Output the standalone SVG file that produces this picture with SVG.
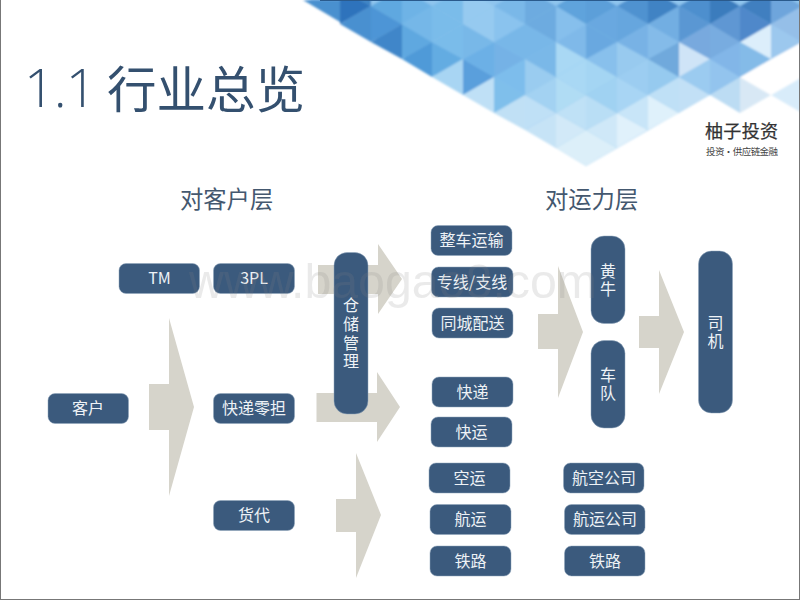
<svg xmlns="http://www.w3.org/2000/svg" width="800" height="600" viewBox="0 0 800 600">
<style>
text{font-family:"Noto Sans CJK SC","Noto Sans",sans-serif}
.n rect{fill:#3b5a7d;stroke:#8ea4ba;stroke-width:.5}
.n text{fill:#eef2f6;font-size:16px;text-anchor:middle}
.a polygon{fill:#d6d4cb}
.h{fill:#44586f;font-size:23.3px}
</style>
<defs><filter id="soft" x="-2%" y="-5%" width="104%" height="110%"><feGaussianBlur stdDeviation="0.8"/></filter></defs>
<rect width="800" height="600" fill="#fff"/>
<g id="banner" filter="url(#soft)">
<polygon points="303,-5 802,-5 802,42 586,166" fill="#8fc5ee"/>
<polygon points="303,0 340,0 340,22" fill="#4a90cf"/>
<polygon points="340,24 340,-12 371,6" fill="#2f73bc"/>
<polygon points="340,24 371,42 371,6" fill="#4a90d0"/>
<polygon points="340,-12 371,6 371,-30" fill="#3f85c5"/>
<polygon points="371,42 371,6 402,24" fill="#4e95d6"/>
<polygon points="371,42 402,59 402,24" fill="#3f86c9"/>
<polygon points="371,6 402,24 402,-12" fill="#5ea8e0"/>
<polygon points="402,59 402,24 432,42" fill="#5fa8e0"/>
<polygon points="402,59 432,77 432,42" fill="#4f9ad8"/>
<polygon points="402,24 432,42 432,6" fill="#74b7e8"/>
<polygon points="402,24 402,-12 432,6" fill="#6eb3e6"/>
<polygon points="432,77 432,42 463,59" fill="#63ace2"/>
<polygon points="432,77 463,95 463,59" fill="#a8d5f3"/>
<polygon points="432,42 463,59 463,24" fill="#7abcea"/>
<polygon points="432,42 432,6 463,24" fill="#7abcea"/>
<polygon points="432,6 463,24 463,-12" fill="#7abcea"/>
<polygon points="463,95 463,59 494,77" fill="#5a9fdc"/>
<polygon points="463,95 494,113 494,77" fill="#bfe0f6"/>
<polygon points="463,59 494,77 494,42" fill="#6cb0e6"/>
<polygon points="463,59 463,24 494,42" fill="#78b8e8"/>
<polygon points="463,24 494,42 494,6" fill="#96caf0"/>
<polygon points="463,24 463,-12 494,6" fill="#96caf0"/>
<polygon points="494,113 494,77 525,95" fill="#7fbfeb"/>
<polygon points="494,113 525,130 525,95" fill="#c0e0f5"/>
<polygon points="494,77 525,95 525,59" fill="#7dbdec"/>
<polygon points="494,77 494,42 525,59" fill="#74b2e6"/>
<polygon points="494,42 525,59 525,24" fill="#78b7e8"/>
<polygon points="494,42 494,6 525,24" fill="#8ac3ee"/>
<polygon points="494,6 525,24 525,-12" fill="#7ab8e8"/>
<polygon points="525,130 525,95 556,113" fill="#bfe0f6"/>
<polygon points="525,130 556,148 556,113" fill="#c6e3f6"/>
<polygon points="525,95 556,113 556,77" fill="#a3d2f2"/>
<polygon points="525,95 525,59 556,77" fill="#9accf0"/>
<polygon points="525,59 556,77 556,42" fill="#7ab8e8"/>
<polygon points="525,59 525,24 556,42" fill="#78b7e8"/>
<polygon points="525,24 556,42 556,6" fill="#6dabe0"/>
<polygon points="525,24 525,-12 556,6" fill="#6dabe0"/>
<polygon points="556,148 556,113 586,130" fill="#d2e9f8"/>
<polygon points="556,148 586,166 586,130" fill="#dceff9"/>
<polygon points="556,113 586,130 586,95" fill="#bfe1f6"/>
<polygon points="556,113 556,77 586,95" fill="#b0dcf4"/>
<polygon points="556,77 586,95 586,59" fill="#a9d8f4"/>
<polygon points="556,77 556,42 586,59" fill="#a9d8f4"/>
<polygon points="556,42 586,59 586,24" fill="#7fb9e9"/>
<polygon points="556,42 556,6 586,24" fill="#86bfec"/>
<polygon points="556,6 586,24 586,-12" fill="#5ea3dc"/>
<polygon points="586,166 617,148 586,130" fill="#dceff9"/>
<polygon points="586,130 617,148 617,113" fill="#cfe8f8"/>
<polygon points="586,130 586,95 617,113" fill="#b9def5"/>
<polygon points="586,95 617,113 617,77" fill="#a0d2f2"/>
<polygon points="586,95 586,59 617,77" fill="#a4d5f3"/>
<polygon points="586,59 617,77 617,42" fill="#88c0ec"/>
<polygon points="586,59 586,24 617,42" fill="#69a8e0"/>
<polygon points="586,24 617,42 617,6" fill="#69a8e0"/>
<polygon points="586,24 586,-12 617,6" fill="#5b9fd9"/>
<polygon points="617,148 617,113 648,130" fill="#e0f1fb"/>
<polygon points="617,113 648,130 648,95" fill="#c8e5f8"/>
<polygon points="617,113 617,77 648,95" fill="#a8d5f4"/>
<polygon points="617,77 648,95 648,59" fill="#9ccdf1"/>
<polygon points="617,77 617,42 648,59" fill="#98caef"/>
<polygon points="617,42 648,59 648,24" fill="#78b2e5"/>
<polygon points="617,42 617,6 648,24" fill="#66a6de"/>
<polygon points="617,6 648,24 648,-12" fill="#4f92d0"/>
<polygon points="648,130 648,95 679,113" fill="#dff1fb"/>
<polygon points="648,95 679,113 679,77" fill="#bfe0f6"/>
<polygon points="648,95 648,59 679,77" fill="#96caef"/>
<polygon points="648,59 679,77 679,42" fill="#6fa9dc"/>
<polygon points="648,59 648,24 679,42" fill="#84bbe9"/>
<polygon points="648,24 679,42 679,6" fill="#72aee2"/>
<polygon points="648,24 648,-12 679,6" fill="#3f83c4"/>
<polygon points="679,113 679,77 710,95" fill="#c2e0f6"/>
<polygon points="679,77 710,95 710,59" fill="#9bcbf0"/>
<polygon points="679,77 679,42 710,59" fill="#cfe4f7"/>
<polygon points="679,42 710,59 710,24" fill="#78a9de"/>
<polygon points="679,42 679,6 710,24" fill="#5a97d3"/>
<polygon points="679,6 710,24 710,-12" fill="#4d8fce"/>
<polygon points="710,95 740,77 740,113" fill="#bcdcf3"/>
<polygon points="710,95 710,59 740,77" fill="#93c4ee"/>
<polygon points="710,59 740,77 740,42" fill="#82b6e8"/>
<polygon points="710,59 710,24 740,42" fill="#78ace0"/>
<polygon points="710,24 740,42 740,6" fill="#5f97d3"/>
<polygon points="710,24 710,-12 740,6" fill="#3a7cbd"/>
<polygon points="740,113 740,77 771,95" fill="#d8e8f5"/>
<polygon points="740,77 771,95 771,59" fill="#fff"/>
<polygon points="740,77 740,42 771,59" fill="#84bbe8"/>
<polygon points="740,42 771,59 771,24" fill="#dceefb"/>
<polygon points="740,42 740,6 771,24" fill="#4f88ca"/>
<polygon points="740,6 771,24 771,-12" fill="#3f7fc0"/>
<polygon points="771,95 802,77 802,113" fill="#d8ecfa"/>
<polygon points="771,95 771,59 802,77" fill="#fff"/>
<polygon points="771,59 802,77 802,42" fill="#fff"/>
<polygon points="771,59 771,24 802,42" fill="#9cc8ee"/>
<polygon points="771,24 802,42 802,6" fill="#95bfe8"/>
<polygon points="771,24 771,-12 802,6" fill="#6ea5dc"/>
</g>
<rect id="topline" x="320" y="0" width="480" height="1" fill="#2a5a8c"/>
<g id="logo">
<text x="705" y="138" font-size="18px" fill="#333" stroke="#333" stroke-width=".25" textLength="73">柚子投资</text>
<text x="706" y="155" font-size="9.5px" fill="#444" textLength="72">投资·供应链金融</text>
</g>
<text id="title" y="107" fill="#34506f"><tspan x="24" font-size="54px" font-weight="300" letter-spacing="-1" style="font-family:'Open Sans',sans-serif">1.1</tspan><tspan x="107" y="108" font-size="49.500px">行业总览</tspan></text>
<text id="h1" class="h" x="180" y="208">对客户层</text>
<text id="h2" class="h" x="545" y="208">对运力层</text>
<g id="connectors" class="a">
<polygon points="318,265 378,265 378,244 402,279 378,314 378,294 318,294"/>
<polygon points="316.5,393 377,393 377,372 400,407 377,442 377,422 316.5,422"/>
<polygon points="149,384 169,384 169,318 194,407 169,496 169,430 149,430"/>
<polygon points="336,499 356,499 356,453 381,515 356,578 356,532 336,532"/>
<polygon points="538,314 558,314 558,266 583,332 558,398 558,349 538,349"/>
<polygon points="639,316 659,316 659,270 684,332 659,394 659,348 639,348"/>
</g>
<g class="n">
<g id="tm"><rect x="119" y="263.5" width="80.5" height="30" rx="7"/><text x="159.500" y="284">TM</text></g>
<g id="pl3"><rect x="213.500" y="263.5" width="81" height="30" rx="7"/><text x="254" y="284">3PL</text></g>
<g id="kehu"><rect x="48" y="393.500" width="80.500" height="30" rx="7"/><text x="88" y="414">客户</text></g>
<g id="lingdan"><rect x="213.500" y="393.500" width="81" height="30" rx="7"/><text x="254" y="414">快递零担</text></g>
<g id="huodai"><rect x="213.500" y="500.500" width="81" height="30" rx="7"/><text x="254" y="521">货代</text></g>
<g id="cangchu"><rect x="334" y="252.500" width="34" height="161.500" rx="13"/><text><tspan x="351" y="311">仓</tspan><tspan x="351" y="330">储</tspan><tspan x="351" y="349">管</tspan><tspan x="351" y="367">理</tspan></text></g>
<g id="zhengche"><rect x="431" y="225.500" width="81" height="30" rx="7"/><text x="471.500" y="246">整车运输</text></g>
<g id="zhuanxian"><rect x="431.500" y="267" width="81.500" height="30" rx="7"/><text x="472" y="288">专线/支线</text></g>
<g id="tongcheng"><rect x="432" y="308" width="81" height="30" rx="7"/><text x="472.500" y="329">同城配送</text></g>
<g id="kuaidi"><rect x="432" y="377" width="81" height="30" rx="7"/><text x="472.500" y="398">快递</text></g>
<g id="kuaiyun"><rect x="431" y="417" width="81" height="30" rx="7"/><text x="471.500" y="438">快运</text></g>
<g id="kongyun"><rect x="429" y="463" width="81" height="30" rx="7"/><text x="469.500" y="484">空运</text></g>
<g id="hangyun"><rect x="430" y="504.500" width="81" height="30" rx="7"/><text x="470.500" y="525">航运</text></g>
<g id="tielu1"><rect x="430" y="546" width="81" height="30" rx="7"/><text x="470.500" y="567">铁路</text></g>
<g id="hkgs"><rect x="563.500" y="463" width="80.500" height="30" rx="7"/><text x="604" y="484">航空公司</text></g>
<g id="hygs"><rect x="564.500" y="504.500" width="80.500" height="30" rx="7"/><text x="605" y="525">航运公司</text></g>
<g id="tielu2"><rect x="564.500" y="546" width="80.500" height="30" rx="7"/><text x="605" y="567">铁路</text></g>
<g id="huangniu"><rect x="591" y="236" width="34" height="87.500" rx="13"/><text><tspan x="608" y="277">黄</tspan><tspan x="608" y="295">牛</tspan></text></g>
<g id="chedui"><rect x="591" y="340.500" width="34" height="87.500" rx="13"/><text><tspan x="608" y="381">车</tspan><tspan x="608" y="399">队</tspan></text></g>
<g id="siji"><rect x="698.500" y="251" width="34" height="162" rx="13"/><text><tspan x="715.500" y="329">司</tspan><tspan x="715.500" y="347">机</tspan></text></g>
</g>
<text id="watermark" x="189" y="298" font-size="48.300px" style="font-family:'Liberation Sans',sans-serif" fill="#808080" fill-opacity=".17">www.baogao8.com</text>
<rect width="1" height="600" fill="#777"/>
<rect y="599" width="800" height="1" fill="#777"/>
<rect x="799" width="1" height="600" fill="#777"/>
</svg>
